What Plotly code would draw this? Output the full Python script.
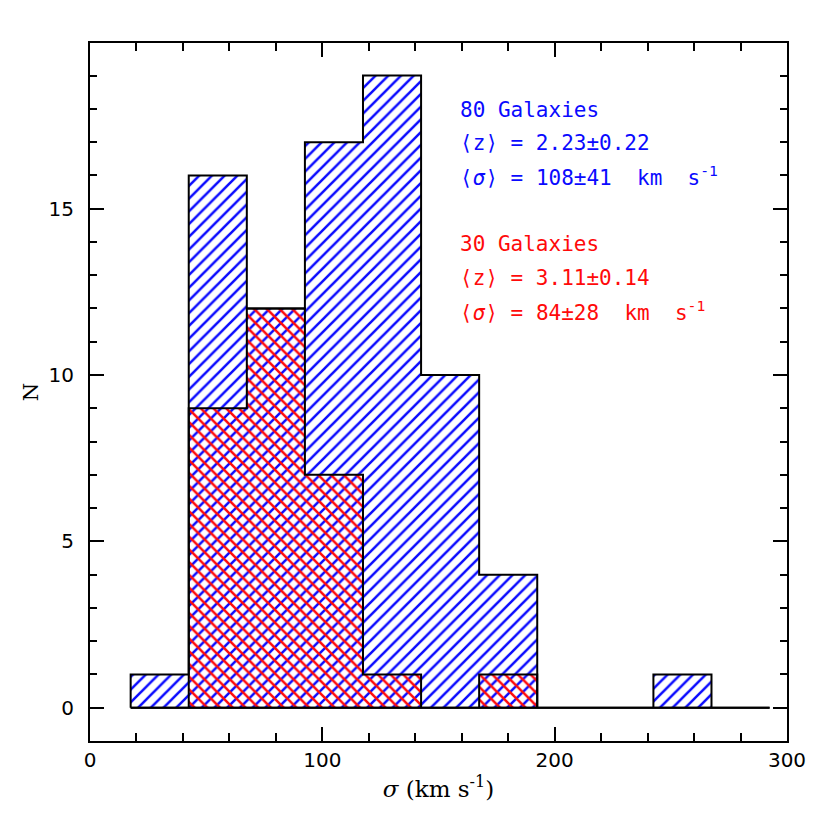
import plotly.graph_objects as go

# histogram bins (sigma, km/s) and counts
bin_centers = [30, 55, 80, 105, 130, 155, 180, 205, 230, 255, 280]
bin_width = 25
blue_counts = [1, 16, 12, 17, 19, 10, 4, 0, 0, 1, 0]   # 80 galaxies, <z>=2.23
red_counts = [0, 9, 12, 7, 1, 0, 1, 0, 0, 0, 0]        # 30 galaxies, <z>=3.11

NB = "\u00a0"
blue_text = ["80 Galaxies", "\u27e8z\u27e9 = 2.23\u00b10.22",
             "\u27e8<i>\u03c3</i>\u27e9 = 108\u00b141" + NB + " km" + NB + " s<sup>-1</sup>"]
red_text = ["30 Galaxies", "\u27e8z\u27e9 = 3.11\u00b10.14",
            "\u27e8<i>\u03c3</i>\u27e9 = 84\u00b128" + NB + " km" + NB + " s<sup>-1</sup>"]

BLUE = "#0a0aff"
RED = "#ff0a0a"
TEXT_FONT = "DejaVu Sans Mono"
TITLE_FONT = "DejaVu Serif"
TICK_FONT = "DejaVu Sans"


def step_outline(counts):
    edges = [c - bin_width / 2 for c in bin_centers] + [bin_centers[-1] + bin_width / 2]
    xs = [edges[0]] + edges + [edges[0]]
    ys = [0] + counts + [0, 0]
    return xs, ys


fig = go.Figure()

fig.add_trace(go.Bar(
    x=bin_centers, y=blue_counts, width=bin_width, opacity=1,
    marker=dict(color="rgba(0,0,0,0)", line=dict(width=0), opacity=1,
                pattern=dict(shape="/", fgcolor=BLUE, bgcolor="white", size=9, solidity=0.28, fgopacity=1)),
    showlegend=False, hoverinfo="skip"))
fig.add_trace(go.Bar(
    x=bin_centers, y=red_counts, width=bin_width, opacity=1,
    marker=dict(color="rgba(0,0,0,0)", line=dict(width=0), opacity=1,
                pattern=dict(shape="\\", fgcolor=RED, bgcolor="rgba(0,0,0,0)", size=9, solidity=0.28, fgopacity=1)),
    showlegend=False, hoverinfo="skip"))

for counts in (blue_counts, red_counts):
    xs, ys = step_outline(counts)
    fig.add_trace(go.Scatter(x=xs, y=ys, mode="lines", line=dict(color="black", width=2, shape="hv"),
                             showlegend=False, hoverinfo="skip"))

line_y = [17.98, 16.98, 15.98]
for i, t in enumerate(blue_text):
    fig.add_annotation(x=158.5, y=line_y[i], text=t, showarrow=False, xanchor="left", yanchor="middle",
                       font=dict(family=TEXT_FONT, size=21, color=BLUE))
for i, t in enumerate(red_text):
    fig.add_annotation(x=158.5, y=line_y[i] - 4.05, text=t, showarrow=False, xanchor="left", yanchor="middle",
                       font=dict(family=TEXT_FONT, size=21, color=RED))

axis_common = dict(
    showline=True, linecolor="black", linewidth=2, mirror="ticks",
    ticks="inside", tickcolor="black", tickwidth=2, ticklen=14,
    showgrid=False, zeroline=False,
    tickfont=dict(family=TICK_FONT, size=20, color="black"),
)

fig.update_layout(
    width=830, height=830,
    paper_bgcolor="white", plot_bgcolor="white",
    margin=dict(l=82, r=51, t=35, b=97),
    barmode="overlay", bargap=0,
    xaxis=dict(axis_common, range=[0, 300], dtick=100,
               minor=dict(ticks="inside", dtick=20, ticklen=8, tickwidth=2, tickcolor="black"),
               title=dict(text="<i>\u03c3</i> (km s<sup>-1</sup>)", font=dict(family=TITLE_FONT, size=23, color="black"),
                          standoff=10)),
    yaxis=dict(axis_common, range=[-1, 19.98], tickvals=[0, 5, 10, 15], ticklabelstandoff=10,
               minor=dict(ticks="inside", dtick=1, ticklen=7, tickwidth=2, tickcolor="black"),
               title=dict(text="N", font=dict(family=TITLE_FONT, size=21, color="black"), standoff=4)),
)

fig.write_html("out.html")
